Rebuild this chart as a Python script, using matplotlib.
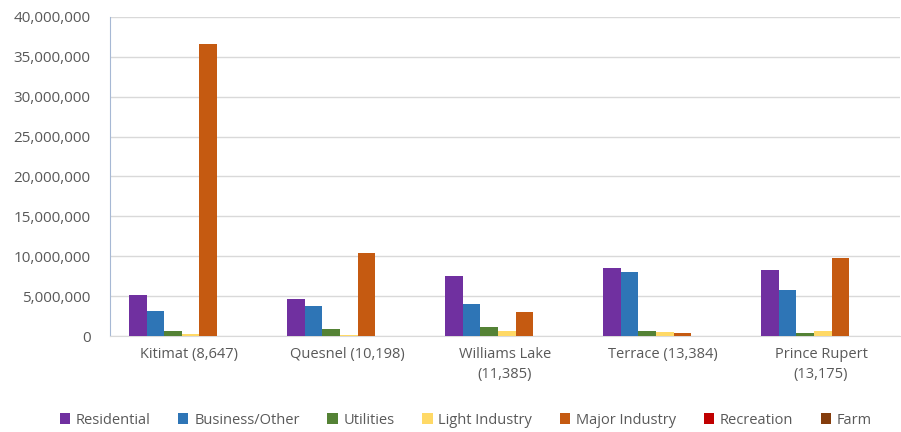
import numpy as np
import matplotlib.pyplot as plt
from matplotlib.ticker import FuncFormatter, MultipleLocator

communities = [
    "Kitimat (8,647)",
    "Quesnel (10,198)",
    "Williams Lake\n(11,385)",
    "Terrace (13,384)",
    "Prince Rupert\n(13,175)",
]

classes = ["Residential", "Business/Other", "Utilities", "Light Industry",
           "Major Industry", "Recreation", "Farm"]

residential = [5.1e6, 4.6e6, 7.5e6, 8.5e6, 8.28e6]
business = [3.1e6, 3.8e6, 4.05e6, 8.07e6, 5.77e6]
utilities = [0.65e6, 0.95e6, 1.13e6, 0.65e6, 0.42e6]
light_industry = [0.3e6, 0.15e6, 0.65e6, 0.5e6, 0.7e6]
major_industry = [36.6e6, 10.45e6, 3.05e6, 0.38e6, 9.82e6]
recreation = [0, 0, 0, 0, 0]
farm = [0, 0, 0, 0, 0]

series = [residential, business, utilities, light_industry,
          major_industry, recreation, farm]
colors = ["#7030A0", "#2E75B6", "#548235", "#FFD966",
          "#C55A11", "#C00000", "#843C0C"]

plt.rcParams["font.family"] = ["Open Sans", "DejaVu Sans"]
text_color = "#595959"

fig = plt.figure(figsize=(9.01, 4.32), dpi=100)
ax = fig.add_axes([0.122, 0.222, 0.877, 0.739])

x = np.arange(len(communities))
width = 1 / 9
for i, (vals, name, c) in enumerate(zip(series, classes, colors)):
    offset = (i - 2.9) * width
    ax.bar(x + offset, vals, width, color=c, label=name, zorder=3)

ax.set_xlim(-0.5, len(communities) - 0.5)
ax.set_ylim(0, 40e6)
ax.yaxis.set_major_locator(MultipleLocator(5e6))
ax.yaxis.set_major_formatter(FuncFormatter(lambda v, p: f"{int(v):,}"))
ax.grid(axis="y", color="#D9D9D9", linewidth=1, zorder=0)

ax.set_xticks(x)
ax.set_xticklabels(communities, linespacing=1.45)
ax.tick_params(axis="both", length=0, labelsize=10.5, labelcolor=text_color)
ax.tick_params(axis="y", labelsize=11, pad=14)
ax.tick_params(axis="x", pad=8)

for side in ["top", "right"]:
    ax.spines[side].set_visible(False)
ax.spines["left"].set_color("#A6B8D4")
ax.spines["bottom"].set_color("#D9D9D9")

fig.legend(loc="lower center", bbox_to_anchor=(0.517, -0.02), ncol=7,
           frameon=False, fontsize=10.5, labelcolor=text_color,
           handlelength=0.7, handleheight=0.7, handletextpad=0.4,
           columnspacing=1.9)

fig.savefig("out.png", dpi=100)
